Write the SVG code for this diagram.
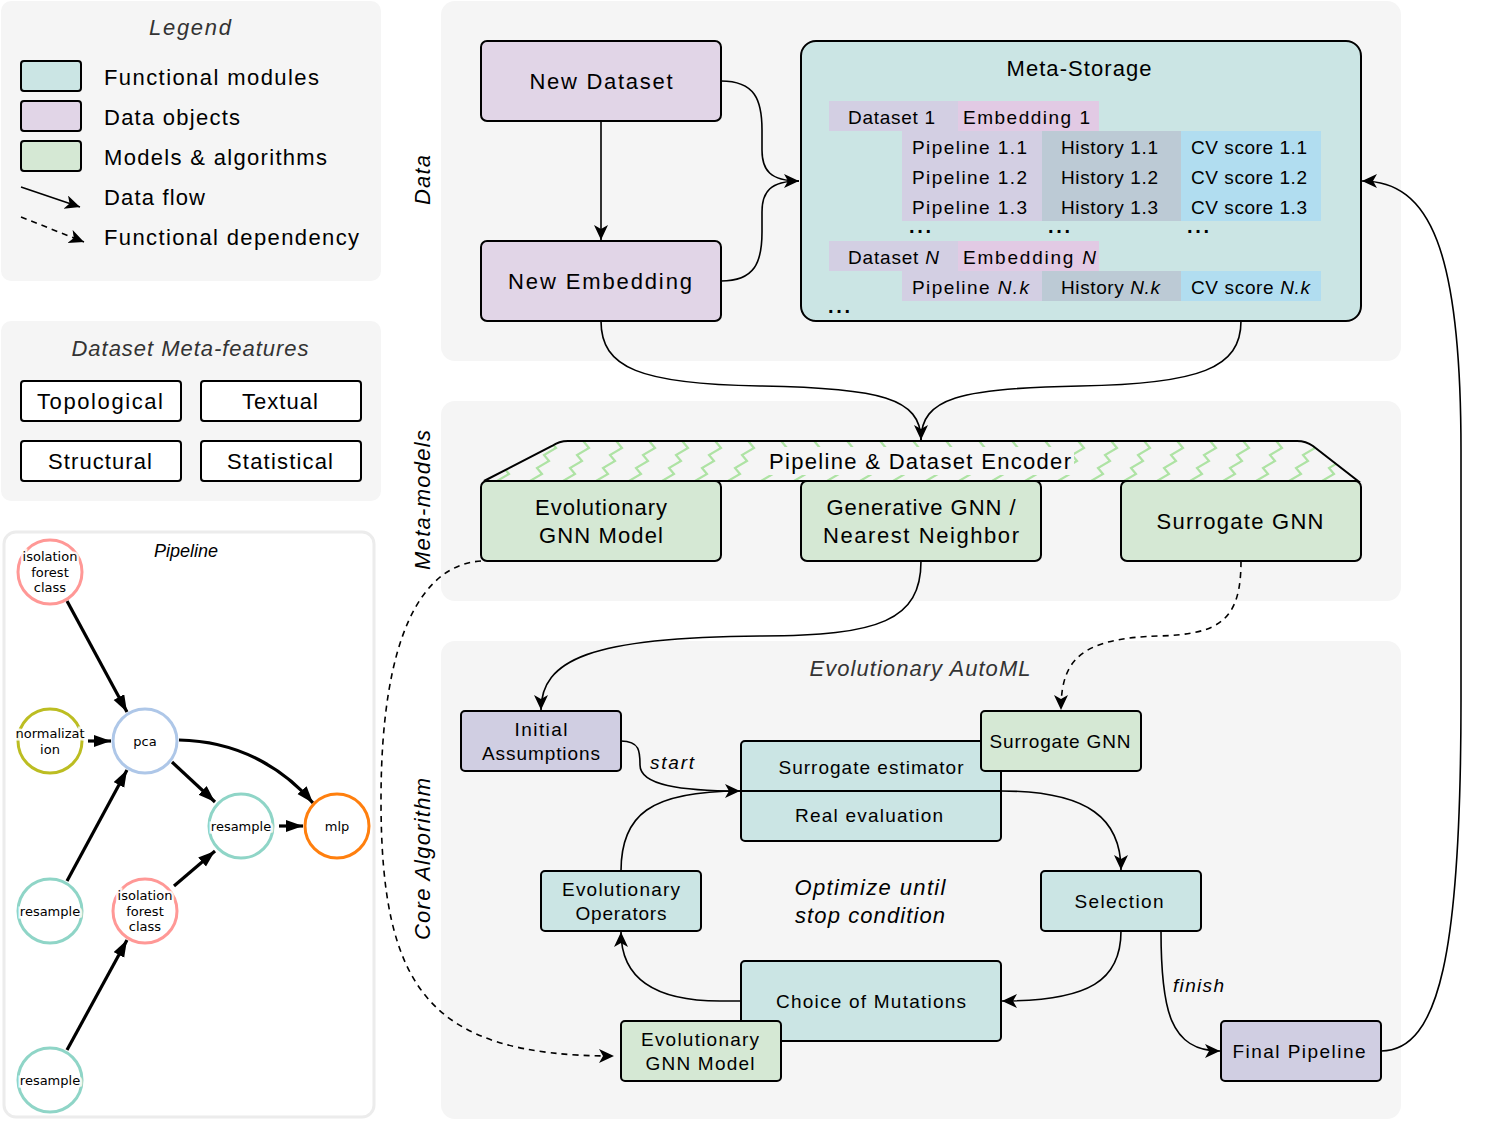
<svg xmlns="http://www.w3.org/2000/svg" width="1501" height="1121" viewBox="0 0 1501 1121">
  <style>
    text { font-family: "Liberation Sans", Arial, sans-serif; fill: #000; }
    .panel { fill: #f5f5f5; }
    .box { stroke: #000; stroke-width: 2; }
    .teal { fill: #cbe5e4; }
    .purple { fill: #e1d5e7; }
    .lav { fill: #d0cee2; }
    .green { fill: #d5e8d4; }
    .white { fill: #fff; }
    .t22 { font-size: 22px; }
    .t19 { font-size: 19px; }
    .mid { text-anchor: middle; }
    .it { font-style: italic; }
    .grey { fill: #333; }
    .edge { fill: none; stroke: #000; stroke-width: 1.6; }
    .dash { stroke-dasharray: 6 5; }
    .pedge { fill: none; stroke: #000; stroke-width: 3.2; }
    .pnode { fill: #fff; stroke-width: 3; }
    .plabel { font-family: "DejaVu Sans", sans-serif; font-size: 13px; text-anchor: middle;
              paint-order: stroke; stroke: #fff; stroke-width: 5; stroke-opacity: 0.85; }
    .cell { font-size: 19px; }
    .dots { font-size: 20px; font-weight: bold; }
  </style>
  <defs>
    <marker id="arrow" markerUnits="userSpaceOnUse" markerWidth="16" markerHeight="16" refX="15" refY="7" orient="auto">
      <path d="M0,0 L15,7 L0,14 L4,7 Z" fill="#000"/>
    </marker>
    <marker id="parrow" markerUnits="userSpaceOnUse" markerWidth="20" markerHeight="14" refX="17" refY="6" orient="auto">
      <path d="M0,0 L17,6 L0,12 Z" fill="#000"/>
    </marker>
    <pattern id="zigzag" patternUnits="userSpaceOnUse" x="0" y="441" width="33" height="40">
      <path d="M2,40 L14,33 L9,27 L21,20 L16,14 L28,7 L23,1 L30,-3" fill="none" stroke="#aee3a4" stroke-width="2.2"/>
    </pattern>
  </defs>

  <rect width="1501" height="1121" fill="#fff"/>

  <!-- Left column panels -->
  <g id="legend">
    <rect class="panel" x="1" y="1" width="380" height="280" rx="10"/>
    <text class="t22 it grey mid" x="190" y="35" textLength="82">Legend</text>
    <rect class="box teal" x="21" y="61" width="60" height="30" rx="3"/>
    <rect class="box purple" x="21" y="101" width="60" height="30" rx="3"/>
    <rect class="box green" x="21" y="141" width="60" height="30" rx="3"/>
    <line class="edge" x1="21" y1="187" x2="80" y2="207" marker-end="url(#arrow)"/>
    <line class="edge dash" x1="21" y1="217" x2="84" y2="242" marker-end="url(#arrow)"/>
    <text class="t22" x="104" y="85" textLength="215">Functional modules</text>
    <text class="t22" x="104" y="125" textLength="136">Data objects</text>
    <text class="t22" x="104" y="165" textLength="223">Models &amp; algorithms</text>
    <text class="t22" x="104" y="205" textLength="101">Data flow</text>
    <text class="t22" x="104" y="245" textLength="255">Functional dependency</text>
  </g>

  <g id="meta-features">
    <rect class="panel" x="1" y="321" width="380" height="180" rx="10"/>
    <text class="t22 it grey mid" x="190" y="356" textLength="237">Dataset Meta-features</text>
    <rect class="box white" x="21" y="381" width="160" height="40" rx="3"/>
    <rect class="box white" x="201" y="381" width="160" height="40" rx="3"/>
    <rect class="box white" x="21" y="441" width="160" height="40" rx="3"/>
    <rect class="box white" x="201" y="441" width="160" height="40" rx="3"/>
    <text class="t22 mid" x="100" y="409" textLength="126">Topological</text>
    <text class="t22 mid" x="280" y="409" textLength="76">Textual</text>
    <text class="t22 mid" x="100" y="469" textLength="104">Structural</text>
    <text class="t22 mid" x="280" y="469" textLength="106">Statistical</text>
  </g>

  <!-- Example pipeline graph -->
  <g id="pipeline-example">
    <rect x="4" y="532" width="370" height="585" rx="12" fill="#fff" stroke="#ececec" stroke-width="3"/>
    <text class="it mid" x="186" y="557" font-size="18">Pipeline</text>
    <g id="pipeline-edges">
      <line class="pedge" x1="67" y1="601" x2="127" y2="712" marker-end="url(#parrow)"/>
      <line class="pedge" x1="88" y1="741" x2="111" y2="741" marker-end="url(#parrow)"/>
      <line class="pedge" x1="67" y1="881" x2="127" y2="770" marker-end="url(#parrow)"/>
      <line class="pedge" x1="172" y1="762" x2="215" y2="802" marker-end="url(#parrow)"/>
      <path class="pedge" d="M179,740 C240,741 285,770 313,803" marker-end="url(#parrow)"/>
      <line class="pedge" x1="279" y1="826" x2="303" y2="826" marker-end="url(#parrow)"/>
      <line class="pedge" x1="174" y1="886" x2="215" y2="851" marker-end="url(#parrow)"/>
      <line class="pedge" x1="67" y1="1050" x2="127" y2="940" marker-end="url(#parrow)"/>
    </g>
    <g id="p-iso1">
      <circle class="pnode" cx="50" cy="572" r="32" stroke="#ff9896"/>
      <text class="plabel" x="50" y="561">isolation</text>
      <text class="plabel" x="50" y="577">forest</text>
      <text class="plabel" x="50" y="592">class</text>
    </g>
    <g id="p-norm">
      <circle class="pnode" cx="50" cy="741" r="32" stroke="#bcbd22"/>
      <text class="plabel" x="50" y="738">normalizat</text>
      <text class="plabel" x="50" y="754">ion</text>
    </g>
    <g id="p-pca">
      <circle class="pnode" cx="145" cy="741" r="32" stroke="#aec7e8"/>
      <text class="plabel" x="145" y="746">pca</text>
    </g>
    <g id="p-resample-mid">
      <circle class="pnode" cx="241" cy="826" r="32" stroke="#8fd5c7"/>
      <text class="plabel" x="241" y="831">resample</text>
    </g>
    <g id="p-mlp">
      <circle class="pnode" cx="337" cy="826" r="32" stroke="#ff7f0e"/>
      <text class="plabel" x="337" y="831">mlp</text>
    </g>
    <g id="p-resample-left">
      <circle class="pnode" cx="50" cy="911" r="32" stroke="#8fd5c7"/>
      <text class="plabel" x="50" y="916">resample</text>
    </g>
    <g id="p-iso2">
      <circle class="pnode" cx="145" cy="911" r="32" stroke="#ff9896"/>
      <text class="plabel" x="145" y="900">isolation</text>
      <text class="plabel" x="145" y="916">forest</text>
      <text class="plabel" x="145" y="931">class</text>
    </g>
    <g id="p-resample-bottom">
      <circle class="pnode" cx="50" cy="1080" r="32" stroke="#8fd5c7"/>
      <text class="plabel" x="50" y="1085">resample</text>
    </g>
  </g>

  <!-- Section panels -->
  <g id="sections">
    <rect class="panel" x="441" y="1" width="960" height="360" rx="14"/>
    <rect class="panel" x="441" y="401" width="960" height="200" rx="14"/>
    <rect class="panel" x="441" y="641" width="960" height="478" rx="14"/>
    <text class="t22 it" transform="translate(430,180) rotate(-90)" text-anchor="middle" textLength="50">Data</text>
    <text class="t22 it" transform="translate(430,500) rotate(-90)" text-anchor="middle" textLength="140">Meta-models</text>
    <text class="t22 it" transform="translate(430,859) rotate(-90)" text-anchor="middle" textLength="162">Core Algorithm</text>
    <text class="t22 it grey mid" x="920" y="676" textLength="221">Evolutionary AutoML</text>
    <text class="t22 it mid" x="870" y="895" textLength="151">Optimize until</text>
    <text class="t22 it mid" x="870" y="923" textLength="150">stop condition</text>
  </g>

  <!-- Connectors -->
  <g id="connectors">
    <line class="edge" x1="601" y1="121" x2="601" y2="240" marker-end="url(#arrow)"/>
    <path class="edge" d="M721,81 C755,81 762,100 762,130 L762,150 C762,170 770,181 799,181" marker-end="url(#arrow)"/>
    <path class="edge" d="M721,281 C755,281 762,262 762,232 L762,212 C762,192 770,181 799,181"/>
    <path class="edge" d="M601,321 C601,368 640,384 760,386 C880,388 921,398 921,440" marker-end="url(#arrow)"/>
    <path class="edge" d="M1241,321 C1241,368 1200,384 1080,386 C960,388 921,398 921,440"/>
    <path class="edge" d="M921,561 C921,620 880,636 760,636 C590,637 541,660 541,710" marker-end="url(#arrow)"/>
    <path class="edge dash" d="M1241,561 C1241,620 1220,634 1160,636 C1080,638 1061,660 1061,710" marker-end="url(#arrow)"/>
    <path class="edge dash" d="M481,561 C420,565 381,640 381,800 C381,990 430,1056 614,1056" marker-end="url(#arrow)"/>
    <path class="edge" d="M621,741 C640,741 640,752 640,765 C640,785 680,791 740,791" marker-end="url(#arrow)"/>
    <path class="edge" d="M621,871 C621,815 650,791 740,791"/>
    <path class="edge" d="M1001,791 C1090,791 1121,820 1121,870" marker-end="url(#arrow)"/>
    <path class="edge" d="M1121,931 C1121,980 1090,1001 1002,1001" marker-end="url(#arrow)"/>
    <path class="edge" d="M741,1001 L720,1001 C650,1001 621,975 621,932" marker-end="url(#arrow)"/>
    <path class="edge" d="M1161,931 C1161,1010 1170,1051 1220,1051" marker-end="url(#arrow)"/>
    <path class="edge" d="M1381,1051 C1440,1051 1461,950 1461,700 L1461,450 C1461,250 1430,181 1362,181" marker-end="url(#arrow)"/>
    <text class="t19 it" x="650" y="769" textLength="44">start</text>
    <text class="t19 it" x="1173" y="992" textLength="51">finish</text>
  </g>

  <!-- Data section nodes -->
  <g id="new-dataset">
    <rect class="box purple" x="481" y="41" width="240" height="80" rx="6"/>
    <text class="t22 mid" x="601" y="89" textLength="143">New Dataset</text>
  </g>
  <g id="new-embedding">
    <rect class="box purple" x="481" y="241" width="240" height="80" rx="6"/>
    <text class="t22 mid" x="600" y="289" textLength="184">New Embedding</text>
  </g>
  <g id="meta-storage">
    <rect class="box teal" x="801" y="41" width="560" height="280" rx="15"/>
    <text class="t22 mid" x="1079" y="76" textLength="145">Meta-Storage</text>
    <rect x="829" y="101" width="129" height="30" fill="#d3cfe3"/>
    <rect x="958" y="101" width="141" height="30" fill="#e2cae4"/>
    <rect x="902" y="131" width="140" height="90" fill="#d3cfe3"/>
    <rect x="1042" y="131" width="139" height="90" fill="#bccad5"/>
    <rect x="1181" y="131" width="140" height="90" fill="#b1ddf0"/>
    <rect x="829" y="241" width="129" height="30" fill="#d3cfe3"/>
    <rect x="958" y="241" width="141" height="30" fill="#e2cae4"/>
    <rect x="902" y="271" width="140" height="30" fill="#d3cfe3"/>
    <rect x="1042" y="271" width="139" height="30" fill="#bccad5"/>
    <rect x="1181" y="271" width="140" height="30" fill="#b1ddf0"/>
    <text class="cell" x="848" y="124" textLength="87">Dataset 1</text>
    <text class="cell" x="963" y="124" textLength="127">Embedding 1</text>
    <text class="cell" x="912" y="154" textLength="115">Pipeline 1.1</text>
    <text class="cell" x="912" y="184" textLength="115">Pipeline 1.2</text>
    <text class="cell" x="912" y="214" textLength="115">Pipeline 1.3</text>
    <text class="cell" x="1061" y="154" textLength="97">History 1.1</text>
    <text class="cell" x="1061" y="184" textLength="97">History 1.2</text>
    <text class="cell" x="1061" y="214" textLength="97">History 1.3</text>
    <text class="cell" x="1191" y="154" textLength="116">CV score 1.1</text>
    <text class="cell" x="1191" y="184" textLength="116">CV score 1.2</text>
    <text class="cell" x="1191" y="214" textLength="116">CV score 1.3</text>
    <text class="dots" x="909" y="233" textLength="22">...</text>
    <text class="dots" x="1048" y="233" textLength="22">...</text>
    <text class="dots" x="1187" y="233" textLength="22">...</text>
    <text class="cell" x="848" y="264" textLength="91">Dataset <tspan font-style="italic">N</tspan></text>
    <text class="cell" x="963" y="264" textLength="133">Embedding <tspan font-style="italic">N</tspan></text>
    <text class="cell" x="912" y="294" textLength="117">Pipeline <tspan font-style="italic">N.k</tspan></text>
    <text class="cell" x="1061" y="294" textLength="99">History <tspan font-style="italic">N.k</tspan></text>
    <text class="cell" x="1191" y="294" textLength="119">CV score <tspan font-style="italic">N.k</tspan></text>
    <text class="dots" x="828" y="313" textLength="22">...</text>
  </g>

  <!-- Meta-models section -->
  <g id="encoder">
    <path d="M484,481 L552,446 Q559,441 568,441 L1297,441 Q1306,441 1313,446 L1358,481 Z" fill="url(#zigzag)" stroke="#000" stroke-width="2"/>
    <rect x="766" y="447" width="308" height="28" fill="#f5f5f5"/>
    <text class="t22 mid" x="920" y="469" textLength="302">Pipeline &amp; Dataset Encoder</text>
  </g>
  <g id="evo-gnn-model">
    <rect class="box green" x="481" y="481" width="240" height="80" rx="6"/>
    <text class="t22 mid" x="601" y="515" textLength="132">Evolutionary</text>
    <text class="t22 mid" x="601" y="543" textLength="124">GNN Model</text>
  </g>
  <g id="generative-gnn">
    <rect class="box green" x="801" y="481" width="240" height="80" rx="6"/>
    <text class="t22 mid" x="921" y="515" textLength="189">Generative GNN /</text>
    <text class="t22 mid" x="921" y="543" textLength="196">Nearest Neighbor</text>
  </g>
  <g id="surrogate-gnn">
    <rect class="box green" x="1121" y="481" width="240" height="80" rx="6"/>
    <text class="t22 mid" x="1240" y="529" textLength="167">Surrogate GNN</text>
  </g>

  <!-- Core algorithm section -->
  <g id="initial-assumptions">
    <rect class="box lav" x="461" y="711" width="160" height="60" rx="4"/>
    <text class="t19 mid" x="541" y="736" textLength="53">Initial</text>
    <text class="t19 mid" x="541" y="760" textLength="118">Assumptions</text>
  </g>
  <g id="evaluation">
    <rect class="box teal" x="741" y="741" width="260" height="100" rx="4"/>
    <line x1="741" y1="791" x2="1001" y2="791" stroke="#000" stroke-width="2"/>
    <text class="t19 mid" x="871" y="774" textLength="185">Surrogate estimator</text>
    <text class="t19 mid" x="869" y="822" textLength="148">Real evaluation</text>
  </g>
  <g id="surrogate-gnn-core">
    <rect class="box green" x="981" y="711" width="160" height="60" rx="4"/>
    <text class="t19 mid" x="1060" y="748" textLength="141">Surrogate GNN</text>
  </g>
  <g id="evolutionary-operators">
    <rect class="box teal" x="541" y="871" width="160" height="60" rx="4"/>
    <text class="t19 mid" x="621" y="896" textLength="118">Evolutionary</text>
    <text class="t19 mid" x="621" y="920" textLength="91">Operators</text>
  </g>
  <g id="selection">
    <rect class="box teal" x="1041" y="871" width="160" height="60" rx="4"/>
    <text class="t19 mid" x="1119" y="908" textLength="89">Selection</text>
  </g>
  <g id="choice-of-mutations">
    <rect class="box teal" x="741" y="961" width="260" height="80" rx="4"/>
    <text class="t19 mid" x="871" y="1008" textLength="190">Choice of Mutations</text>
  </g>
  <g id="evo-gnn-core">
    <rect class="box green" x="621" y="1021" width="160" height="60" rx="4"/>
    <text class="t19 mid" x="700" y="1046" textLength="118">Evolutionary</text>
    <text class="t19 mid" x="700" y="1070" textLength="109">GNN Model</text>
  </g>
  <g id="final-pipeline">
    <rect class="box lav" x="1221" y="1021" width="160" height="60" rx="4"/>
    <text class="t19 mid" x="1299" y="1058" textLength="133">Final Pipeline</text>
  </g>
</svg>
